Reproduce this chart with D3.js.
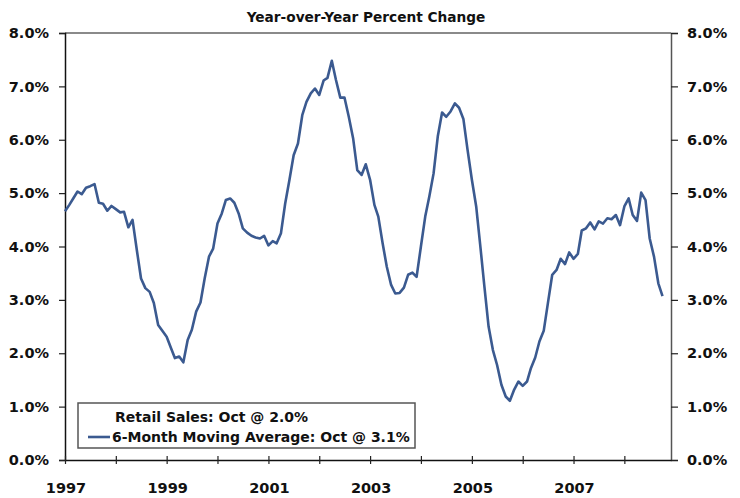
<!DOCTYPE html>
<html>
<head>
<meta charset="utf-8">
<script src="https://cdn.jsdelivr.net/npm/d3@7"></script>
<style>
  html, body { margin: 0; padding: 0; background: #fff; }
  svg { display: block; }
  text { font-family: "DejaVu Sans", sans-serif; font-weight: bold; fill: #111; }
</style>
</head>
<body>
<svg id="chart" width="740" height="498"></svg>
<script>
// ---------------- DATA ----------------
const subtitle = "Year-over-Year Percent Change";
const startMonth = "1997-01";            // first observation
const domainEnd = "2008-12";              // right edge of the axis
// 6-month moving average of retail sales, y/y % change, Jan 1997 .. Oct 2008
const movingAvg = [
  4.66, 4.78, 4.90, 5.03, 4.98, 5.10, 5.13, 5.17, 4.82, 4.80, 4.67, 4.76,
  4.70, 4.64, 4.65, 4.36, 4.50, 3.93, 3.40, 3.22, 3.15, 2.94, 2.53, 2.42,
  2.31, 2.10, 1.91, 1.94, 1.83, 2.25, 2.44, 2.78, 2.95, 3.40, 3.81, 3.96,
  4.43, 4.62, 4.87, 4.90, 4.82, 4.62, 4.34, 4.26, 4.20, 4.17, 4.15, 4.20,
  4.02, 4.10, 4.06, 4.25, 4.80, 5.25, 5.71, 5.93, 6.46, 6.71, 6.87, 6.96,
  6.84, 7.11, 7.16, 7.48, 7.12, 6.79, 6.79, 6.43, 6.03, 5.43, 5.34, 5.54,
  5.25, 4.78, 4.56, 4.06, 3.62, 3.28, 3.12, 3.13, 3.23, 3.47, 3.51, 3.43,
  4.00, 4.56, 4.93, 5.37, 6.06, 6.51, 6.43, 6.53, 6.68, 6.60, 6.39, 5.81,
  5.25, 4.75, 4.05, 3.25, 2.50, 2.06, 1.78, 1.41, 1.19, 1.11, 1.32, 1.47,
  1.39, 1.47, 1.72, 1.92, 2.22, 2.42, 2.94, 3.47, 3.56, 3.77, 3.67, 3.89,
  3.77, 3.86, 4.30, 4.34, 4.45, 4.32, 4.47, 4.43, 4.53, 4.51, 4.59, 4.40,
  4.75, 4.90, 4.59, 4.48, 5.01, 4.87, 4.15, 3.81, 3.31, 3.07
];
const yTicks = [0, 1, 2, 3, 4, 5, 6, 7, 8];
const xTickYears = [1997, 1998, 1999, 2000, 2001, 2002, 2003, 2004, 2005, 2006, 2007, 2008];
const xLabelYears = [1997, 1999, 2001, 2003, 2005, 2007];
const legendItems = [
  { label: "Retail Sales: Oct @ 2.0%", color: null },
  { label: "6-Month Moving Average: Oct @ 3.1%", color: "#3b5a90" }
];

// ---------------- LAYOUT ----------------
const plotL = 65, plotR = 671, plotT = 33, plotB = 460;
const lineColor = "#3b5a90";

const parseMonth = d3.timeParse("%Y-%m");
const t0 = parseMonth(startMonth);
const dates = movingAvg.map((_, i) => d3.timeMonth.offset(t0, i));
const series = movingAvg.map((v, i) => ({ date: dates[i], value: v }));

const x = d3.scaleTime().domain([t0, parseMonth(domainEnd)]).range([plotL, plotR]);
const y = d3.scaleLinear().domain([0, 8]).range([plotB, plotT]);

const svg = d3.select("#chart");

// subtitle
svg.append("text")
  .attr("x", 366).attr("y", 22)
  .attr("text-anchor", "middle")
  .style("font-size", "13.7px")
  .text(subtitle);

// frame: top (gray) and right lines
svg.append("line").attr("x1", plotL).attr("x2", plotR).attr("y1", plotT).attr("y2", plotT)
  .attr("stroke", "#8a8a8a").attr("stroke-width", 2);

// left axis
const yLeft = d3.axisLeft(y).tickValues(yTicks).tickSize(6).tickPadding(10)
  .tickFormat(d => d3.format(".1f")(d) + "%");
const gL = svg.append("g").attr("transform", `translate(${plotL},0)`).call(yLeft);
gL.select(".domain").attr("stroke", "#111").attr("stroke-width", 1.5);
gL.selectAll(".tick line").attr("stroke", "#222").attr("stroke-width", 1.2);
gL.selectAll(".tick text").style("font-size", "14.5px").attr("font-family", null);

// right axis
const yRight = d3.axisRight(y).tickValues(yTicks).tickSize(7).tickPadding(9)
  .tickFormat(d => d3.format(".1f")(d) + "%");
const gR = svg.append("g").attr("transform", `translate(${plotR},0)`).call(yRight);
gR.select(".domain").attr("stroke", "#555").attr("stroke-width", 1.5);
gR.selectAll(".tick line").attr("stroke", "#222").attr("stroke-width", 1.2);
gR.selectAll(".tick text").style("font-size", "14.5px").attr("font-family", null);

// bottom axis with crossing ticks
const xTickDates = xTickYears.map(yr => new Date(yr, 0, 1));
const xAxis = d3.axisBottom(x).tickValues(xTickDates).tickSizeInner(4).tickSizeOuter(0)
  .tickFormat("");
const gX = svg.append("g").attr("transform", `translate(0,${plotB})`).call(xAxis);
gX.select(".domain").attr("stroke", "#111").attr("stroke-width", 1.5);
gX.selectAll(".tick line").attr("y1", -4).attr("y2", 4).attr("stroke", "#222").attr("stroke-width", 1.2);

svg.append("g").selectAll("text").data(xLabelYears).join("text")
  .attr("x", d => x(new Date(d, 0, 1)) + 1)
  .attr("y", 493)
  .attr("text-anchor", "middle")
  .style("font-size", "14.5px")
  .text(d => d);

// series line
const line = d3.line().x(d => x(d.date)).y(d => y(d.value));
svg.append("path").datum(series)
  .attr("d", line)
  .attr("fill", "none")
  .attr("stroke", lineColor)
  .attr("stroke-width", 2.6)
  .attr("stroke-linejoin", "round");

// legend
const lg = svg.append("g");
lg.append("rect").attr("x", 78).attr("y", 403).attr("width", 337).attr("height", 45)
  .attr("fill", "#fff").attr("stroke", "#555").attr("stroke-width", 1.5);
lg.append("text").attr("x", 115).attr("y", 422).style("font-size", "14px").text(legendItems[0].label);
lg.append("line").attr("x1", 88).attr("x2", 110).attr("y1", 437).attr("y2", 437)
  .attr("stroke", legendItems[1].color).attr("stroke-width", 2.6);
lg.append("text").attr("x", 112).attr("y", 442).style("font-size", "14px").text(legendItems[1].label);
</script>
</body>
</html>
